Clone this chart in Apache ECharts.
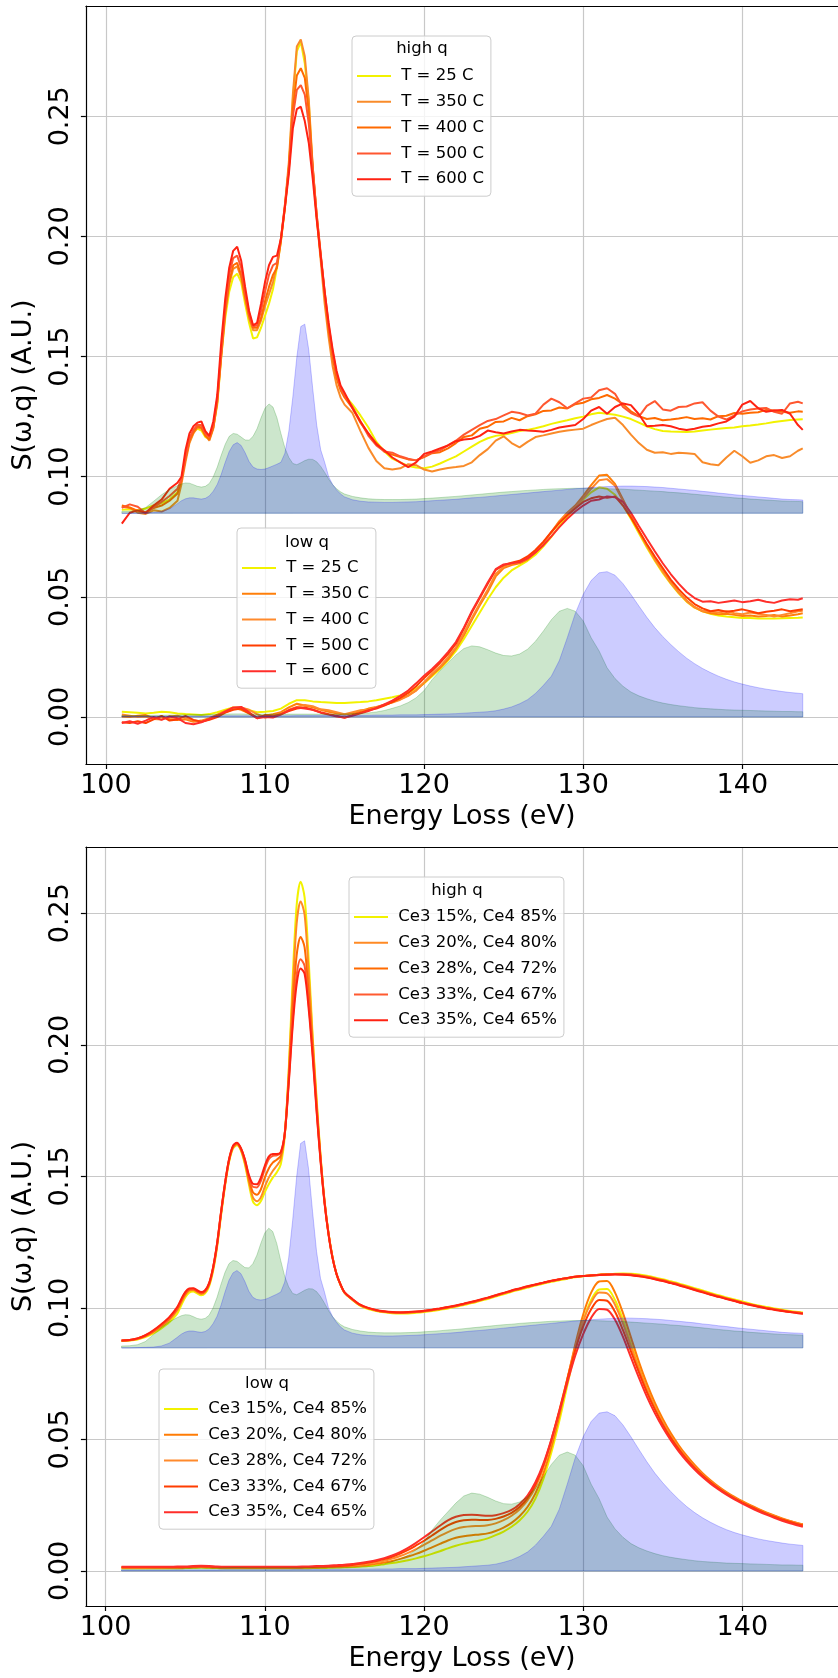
<!DOCTYPE html>
<html>
<head>
<meta charset="utf-8">
<script src="https://cdn.jsdelivr.net/npm/echarts@6/dist/echarts.min.js"></script>
<style>
html,body{margin:0;padding:0;background:#fff;}
#chart{width:838px;height:1678px;}
</style>
</head>
<body>
<div id="chart"></div>
<script>
// ---------------- DATA ----------------
// energy grids (eV)
const E_HQ = [101,101.5,102,102.5,103,103.5,104,
104.5,104.75,105,105.25,105.5,105.75,106,106.25,106.5,106.75,107,107.25,107.5,107.75,108,108.25,108.5,108.75,109,109.25,109.5,109.75,110,110.25,110.5,110.75,111,111.25,111.5,111.75,112,112.25,112.5,112.75,113,113.25,113.5,113.75,114,114.25,114.5,114.75,115,
115.5,116,116.5,117,117.5,118,118.5,119,119.5,120,120.5,121,121.5,122,122.5,123,123.5,124,124.5,125,125.5,126,126.5,127,127.5,128,128.5,129,129.5,130,130.5,131,131.5,132,132.5,133,133.5,134,134.5,135,135.5,136,136.5,137,137.5,138,138.5,139,139.5,140,140.5,141,141.5,142,142.5,143,143.5,143.8];
const E_LQ = [101,101.5,102,102.5,103,103.5,104,104.5,105,105.5,106,106.5,107,107.5,108,108.5,109,109.5,110,110.5,111,111.5,112,112.5,113,113.5,114,114.5,115,115.5,116,116.5,117,117.5,118,118.5,119,119.5,120,120.5,121,121.5,122,122.5,123,123.5,124,124.5,125,125.5,126,126.5,127,127.5,128,128.5,129,129.5,130,130.5,131,131.5,132,132.5,133,133.5,134,134.5,135,135.5,136,136.5,137,137.5,138,138.5,139,139.5,140,140.5,141,141.5,142,142.5,143,143.5,143.8];

// tick values
const X_TICKS = [100,110,120,130,140];
const Y_TICKS = [0,0.05,0.10,0.15,0.20,0.25];

// legend labels
const TEMP_LABELS = ['T = 25 C','T = 350 C','T = 400 C','T = 500 C','T = 600 C'];
const MIX_LABELS = ['Ce3 15%, Ce4 85%','Ce3 20%, Ce4 80%','Ce3 28%, Ce4 72%','Ce3 33%, Ce4 67%','Ce3 35%, Ce4 65%'];

// ---- top panel, high q (measured, by temperature) ----
const hqT25 = [.0862,.0865,.0860,.0868,.0880,.0890,.0905,
.0935,.0985,.1075,.1145,.1185,.1200,.1192,.1165,.1158,.1205,.1300,.1500,.1660,.1770,.1830,.1845,.1810,.1720,.1640,.1575,.1580,.1620,.1670,.1720,.1780,.1870,.1980,.2120,.2290,.2570,.2770,.2810,.2720,.2560,.2270,.2080,.1920,.1760,.1620,.1510,.1420,.1370,.1340,
.1300,.1255,.1205,.1145,.1105,.1075,.1060,.1045,.1038,.1035,.1042,.1055,.1070,.1085,.1105,.1125,.1145,.1160,.1170,.1175,.1182,.1190,.1195,.1202,.1210,.1220,.1228,.1235,.1243,.1250,.1260,.1266,.1262,.1258,.1250,.1240,.1225,.1210,.1198,.1190,.1188,.1187,.1186,.1188,.1192,.1196,.1200,.1203,.1205,.1210,.1213,.1217,.1222,.1228,.1232,.1236,.1238,.1239];
const hqT350 = [.0875,.0870,.0850,.0845,.0860,.0855,.0870,
.0900,.0970,.1060,.1140,.1180,.1205,.1200,.1175,.1150,.1200,.1310,.1500,.1680,.1800,.1865,.1875,.1830,.1740,.1660,.1610,.1610,.1650,.1710,.1760,.1810,.1880,.1990,.2130,.2310,.2590,.2790,.2820,.2750,.2570,.2290,.2080,.1900,.1720,.1580,.1460,.1380,.1330,.1300,
.1265,.1190,.1120,.1065,.1035,.1030,.1035,.1052,.1048,.1030,.1022,.1030,.1036,.1040,.1045,.1060,.1090,.1115,.1150,.1168,.1140,.1122,.1145,.1165,.1172,.1180,.1187,.1192,.1196,.1200,.1215,.1228,.1240,.1245,.1215,.1175,.1140,.1112,.1100,.1102,.1095,.1100,.1098,.1095,.1060,.1052,.1048,.1080,.1108,.1085,.1058,.1068,.1085,.1090,.1078,.1085,.1108,.1118];
const hqT400 = [.0880,.0872,.0858,.0852,.0870,.0880,.0900,
.0930,.0985,.1075,.1150,.1185,.1210,.1205,.1170,.1155,.1205,.1315,.1510,.1690,.1810,.1880,.1890,.1840,.1750,.1670,.1620,.1620,.1660,.1730,.1790,.1840,.1870,.1980,.2120,.2290,.2530,.2670,.2700,.2660,.2520,.2290,.2090,.1920,.1760,.1610,.1500,.1410,.1360,.1330,
.1285,.1225,.1178,.1140,.1105,.1092,.1082,.1072,.1068,.1082,.1098,.1102,.1118,.1140,.1165,.1172,.1200,.1208,.1228,.1230,.1245,.1235,.1252,.1260,.1274,.1276,.1288,.1284,.1302,.1308,.1322,.1328,.1340,.1325,.1302,.1272,.1252,.1240,.1244,.1235,.1238,.1242,.1248,.1240,.1243,.1238,.1252,.1254,.1265,.1262,.1266,.1268,.1278,.1276,.1270,.1266,.1272,.1270];
const hqT500 = [.0870,.0885,.0875,.0848,.0872,.0895,.0920,
.0950,.0990,.1080,.1160,.1195,.1215,.1215,.1180,.1165,.1215,.1325,.1520,.1710,.1840,.1910,.1920,.1870,.1770,.1680,.1625,.1630,.1690,.1770,.1840,.1880,.1890,.1990,.2130,.2280,.2500,.2610,.2630,.2590,.2470,.2280,.2090,.1930,.1770,.1630,.1520,.1430,.1370,.1340,
.1290,.1230,.1170,.1130,.1105,.1100,.1085,.1075,.1068,.1085,.1100,.1110,.1130,.1150,.1175,.1195,.1215,.1232,.1240,.1255,.1270,.1265,.1255,.1262,.1300,.1325,.1310,.1285,.1305,.1325,.1330,.1360,.1368,.1345,.1290,.1265,.1250,.1295,.1315,.1280,.1275,.1290,.1292,.1305,.1310,.1275,.1250,.1238,.1255,.1272,.1280,.1284,.1286,.1270,.1262,.1305,.1312,.1305];
const hqT600 = [.0805,.0850,.0860,.0850,.0880,.0905,.0950,
.0975,.1000,.1110,.1180,.1210,.1225,.1230,.1190,.1170,.1230,.1340,.1560,.1740,.1870,.1940,.1957,.1900,.1790,.1690,.1630,.1640,.1720,.1810,.1880,.1915,.1920,.1990,.2120,.2260,.2450,.2530,.2540,.2480,.2390,.2240,.2070,.1920,.1770,.1640,.1530,.1440,.1380,.1350,
.1285,.1230,.1180,.1135,.1110,.1080,.1060,.1040,.1060,.1095,.1105,.1118,.1130,.1148,.1155,.1158,.1170,.1192,.1185,.1180,.1188,.1195,.1192,.1190,.1187,.1195,.1205,.1210,.1215,.1240,.1275,.1290,.1262,.1290,.1305,.1298,.1260,.1210,.1212,.1215,.1210,.1200,.1194,.1200,.1208,.1212,.1222,.1230,.1250,.1300,.1315,.1285,.1270,.1276,.1278,.1262,.1215,.1195];

// ---- top panel, low q (measured, by temperature) ----
const lqT25 = [.0022,.0020,.0018,.0015,.0018,.0022,.0020,.0015,.0012,.0010,
.0008,.0012,.0020,.0030,.0040,.0038,.0028,.0020,.0022,.0025,
.0035,.0055,.0070,.0070,.0065,.0062,.0060,.0058,.0058,.0060,
.0062,.0065,.0070,.0076,.0082,.0090,.0102,.0118,.0140,.0170,
.0200,.0235,.0275,.0325,.0380,.0435,.0490,.0540,.0580,.0610,
.0630,.0650,.0675,.0710,.0750,.0795,.0835,.0870,.0905,.0935,
.0956,.0950,.0925,.0880,.0825,.0765,.0705,.0650,.0600,.0555,
.0515,.0480,.0455,.0440,.0430,.0422,.0418,.0415,.0412,.0412,
.0410,.0410,.0410,.0411,.0412,.0413,.0414];
const lqT350 = [.0002,.0000,.0005,.0008,-.0005,.0002,-.0008,-.0012,-.0010,-.0020,
-.0015,-.0005,.0010,.0025,.0038,.0030,.0015,-.0002,.0005,.0012,
.0020,.0040,.0055,.0048,.0040,.0030,.0022,.0015,.0010,.0015,
.0025,.0035,.0042,.0050,.0062,.0075,.0090,.0110,.0142,.0175,
.0205,.0240,.0285,.0340,.0405,.0465,.0520,.0585,.0620,.0632,
.0640,.0655,.0685,.0725,.0770,.0815,.0850,.0880,.0920,.0965,
.1005,.1008,.0970,.0905,.0840,.0775,.0715,.0660,.0610,.0560,
.0520,.0485,.0458,.0440,.0432,.0428,.0430,.0425,.0420,.0422,
.0418,.0420,.0425,.0418,.0422,.0428,.0432];
const lqT400 = [.0010,.0005,.0000,.0002,-.0008,-.0010,.0002,.0005,-.0005,-.0015,
-.0018,-.0010,.0005,.0020,.0032,.0040,.0030,.0012,-.0002,.0005,
.0015,.0030,.0042,.0050,.0045,.0032,.0028,.0020,.0012,.0020,
.0028,.0030,.0040,.0052,.0060,.0072,.0088,.0112,.0145,.0180,
.0210,.0248,.0290,.0350,.0412,.0472,.0530,.0595,.0625,.0638,
.0645,.0660,.0690,.0725,.0768,.0810,.0848,.0875,.0910,.0950,
.0985,.0990,.0962,.0900,.0835,.0772,.0712,.0655,.0605,.0558,
.0518,.0482,.0456,.0442,.0438,.0435,.0440,.0432,.0428,.0435,
.0430,.0425,.0418,.0425,.0432,.0440,.0442];
const lqT500 = [-.0022,-.0025,-.0018,-.0025,-.0010,.0005,-.0015,-.0010,.0005,-.0012,
-.0020,-.0012,.0000,.0018,.0030,.0035,.0015,-.0005,.0008,.0002,
.0012,.0025,.0035,.0040,.0030,.0020,.0012,.0005,-.0003,.0008,
.0018,.0028,.0035,.0048,.0062,.0080,.0100,.0128,.0162,.0192,
.0225,.0262,.0305,.0368,.0435,.0495,.0555,.0612,.0632,.0642,
.0650,.0668,.0695,.0730,.0770,.0808,.0840,.0868,.0895,.0910,
.0918,.0912,.0918,.0880,.0830,.0775,.0720,.0668,.0620,.0572,
.0532,.0498,.0470,.0452,.0440,.0445,.0438,.0442,.0448,.0440,
.0432,.0438,.0442,.0448,.0440,.0445,.0448];
const lqT600 = [-.0025,-.0018,-.0028,-.0015,.0000,-.0012,.0002,-.0005,-.0025,-.0030,
-.0022,-.0008,.0005,.0022,.0040,.0042,.0020,-.0005,.0000,-.0002,
.0010,.0028,.0040,.0035,.0030,.0018,.0010,.0002,-.0002,.0005,
.0015,.0025,.0038,.0052,.0068,.0088,.0110,.0140,.0172,.0200,
.0232,.0270,.0312,.0372,.0440,.0500,.0560,.0615,.0635,.0640,
.0645,.0660,.0685,.0715,.0752,.0790,.0825,.0855,.0880,.0900,
.0905,.0918,.0915,.0895,.0850,.0795,.0742,.0690,.0640,.0595,
.0555,.0520,.0495,.0480,.0482,.0475,.0480,.0485,.0478,.0482,
.0488,.0480,.0475,.0485,.0490,.0488,.0494];

// ---- bottom panel, high q (model, by Ce3/Ce4 mixture) ----
const hqCe15 = [.0874,.0876,.0880,.0889,.0903,.0922,.0945,
.0978,.1010,.1040,.1058,.1062,.1055,.1048,.1055,.1082,.1140,.1230,.1350,.1462,.1553,.1605,.1618,.1598,.1545,.1470,.1405,.1390,.1405,.1440,.1470,.1495,.1515,.1545,.1650,.1900,.2250,.2530,.2620,.2560,.2330,.2040,.1800,.1580,.1410,.1285,.1195,.1130,.1088,.1058,
.1030,.1008,.0996,.0988,.0983,.0980,.0979,.0979,.0981,.0984,.0988,.0993,.0998,.1004,.1011,.1018,.1026,.1034,.1043,.1052,.1061,.1069,.1077,.1085,.1092,.1099,.1105,.1111,.1116,.1120,.1123,.1126,.1128,.1130,.1131,.1130,.1127,.1122,.1116,.1109,.1101,.1093,.1084,.1075,.1066,.1057,.1048,.1040,.1032,.1024,.1016,.1009,.1003,.0998,.0993,.0988,.0984,.0982];
const hqCe20 = [.0875,.0877,.0882,.0892,.0908,.0929,.0954,
.0990,.1020,.1048,.1065,.1068,.1060,.1053,.1060,.1087,.1146,.1236,.1356,.1467,.1557,.1609,.1622,.1601,.1552,.1480,.1420,.1405,.1420,.1460,.1495,.1520,.1540,.1565,.1660,.1890,.2200,.2460,.2545,.2495,.2280,.2025,.1785,.1575,.1408,.1284,.1194,.1130,.1089,.1059,
.1032,.1010,.0998,.0990,.0985,.0982,.0981,.0982,.0984,.0987,.0991,.0996,.1001,.1007,.1014,.1021,.1029,.1037,.1046,.1055,.1064,.1072,.1080,.1088,.1095,.1102,.1108,.1113,.1118,.1121,.1124,.1126,.1128,.1129,.1129,.1127,.1123,.1118,.1112,.1105,.1097,.1089,.1080,.1071,.1062,.1053,.1044,.1036,.1028,.1020,.1013,.1006,.1000,.0995,.0990,.0985,.0982,.0980];
const hqCe28 = [.0875,.0877,.0883,.0894,.0911,.0933,.0959,
.0996,.1026,.1053,.1069,.1071,.1063,.1056,.1063,.1090,.1150,.1240,.1360,.1470,.1560,.1612,.1625,.1604,.1558,.1490,.1440,.1430,.1450,.1495,.1530,.1552,.1563,.1578,.1660,.1870,.2140,.2340,.2410,.2370,.2200,.1995,.1770,.1570,.1405,.1283,.1193,.1130,.1089,.1059,
.1032,.1010,.0998,.0990,.0985,.0982,.0981,.0982,.0984,.0987,.0991,.0996,.1001,.1007,.1014,.1021,.1029,.1037,.1046,.1055,.1064,.1072,.1080,.1088,.1095,.1102,.1108,.1113,.1118,.1121,.1124,.1126,.1128,.1129,.1129,.1127,.1123,.1118,.1112,.1105,.1097,.1089,.1080,.1071,.1062,.1053,.1044,.1036,.1028,.1020,.1013,.1006,.1000,.0995,.0990,.0985,.0982,.0980];
const hqCe33 = [.0876,.0878,.0884,.0895,.0913,.0936,.0962,
.1000,.1030,.1057,.1072,.1073,.1065,.1058,.1065,.1092,.1152,.1242,.1362,.1472,.1562,.1614,.1627,.1606,.1562,.1500,.1460,.1458,.1482,.1528,.1565,.1578,.1580,.1588,.1660,.1858,.2090,.2265,.2325,.2300,.2160,.1975,.1758,.1563,.1402,.1282,.1192,.1130,.1089,.1059,
.1033,.1011,.0999,.0991,.0986,.0983,.0982,.0983,.0985,.0988,.0992,.0997,.1002,.1008,.1015,.1022,.1030,.1038,.1047,.1056,.1065,.1073,.1081,.1088,.1095,.1102,.1108,.1113,.1118,.1121,.1123,.1125,.1127,.1128,.1127,.1125,.1121,.1116,.1110,.1103,.1095,.1087,.1078,.1069,.1060,.1051,.1043,.1035,.1027,.1019,.1012,.1005,.0999,.0994,.0989,.0984,.0981,.0979];
const hqCe35 = [.0876,.0878,.0884,.0896,.0915,.0938,.0965,
.1003,.1033,.1060,.1074,.1075,.1067,.1060,.1067,.1094,.1154,.1244,.1364,.1474,.1564,.1616,.1628,.1607,.1565,.1505,.1472,.1470,.1495,.1540,.1575,.1585,.1585,.1592,.1660,.1850,.2070,.2230,.2290,.2270,.2140,.1960,.1750,.1560,.1400,.1280,.1190,.1130,.1090,.1060,
.1034,.1012,.1000,.0992,.0987,.0984,.0983,.0984,.0986,.0989,.0993,.0998,.1003,.1009,.1016,.1023,.1031,.1039,.1048,.1057,.1066,.1074,.1082,.1089,.1096,.1103,.1109,.1114,.1118,.1121,.1123,.1125,.1126,.1127,.1126,.1124,.1120,.1115,.1109,.1102,.1094,.1086,.1077,.1068,.1059,.1050,.1042,.1034,.1026,.1018,.1011,.1004,.0998,.0993,.0988,.0984,.0980,.0978];

// ---- bottom panel, low q (model, by Ce3/Ce4 mixture) ----
const lqCe15 = [.0010,.0010,.0010,.0010,.0010,.0010,.0010,.0010,.0011,.0012,
.0013,.0012,.0011,.0010,.0010,.0010,.0010,.0010,.0010,.0010,
.0010,.0010,.0010,.0010,.0011,.0011,.0012,.0013,.0014,.0015,
.0017,.0019,.0022,.0026,.0030,.0035,.0041,.0048,.0056,.0065,
.0075,.0086,.0096,.0104,.0110,.0116,.0124,.0136,.0150,.0168,
.0192,.0225,.0275,.0350,.0450,.0570,.0705,.0838,.0950,.1030,
.1070,.1072,.1030,.0955,.0865,.0775,.0695,.0625,.0565,.0513,
.0468,.0430,.0396,.0366,.0340,.0317,.0297,.0279,.0263,.0248,
.0234,.0221,.0209,.0198,.0188,.0180,.0176];
const lqCe20 = [.0012,.0012,.0012,.0012,.0012,.0012,.0012,.0012,.0013,.0014,
.0015,.0014,.0013,.0012,.0012,.0012,.0012,.0012,.0012,.0012,
.0012,.0012,.0012,.0013,.0013,.0014,.0015,.0016,.0017,.0018,
.0020,.0023,.0027,.0032,.0038,.0046,.0055,.0065,.0077,.0090,
.0103,.0116,.0126,.0132,.0136,.0139,.0143,.0152,.0165,.0183,
.0208,.0243,.0295,.0370,.0470,.0590,.0725,.0860,.0975,.1058,
.1100,.1102,.1058,.0980,.0888,.0795,.0712,.0640,.0578,.0524,
.0478,.0438,.0403,.0372,.0345,.0321,.0300,.0282,.0265,.0250,
.0236,.0223,.0211,.0200,.0190,.0182,.0178];
const lqCe28 = [.0013,.0013,.0013,.0013,.0013,.0013,.0013,.0013,.0014,.0015,
.0016,.0015,.0014,.0013,.0013,.0013,.0013,.0013,.0013,.0013,
.0013,.0013,.0013,.0014,.0014,.0015,.0016,.0017,.0019,.0021,
.0024,.0028,.0033,.0039,.0047,.0057,.0069,.0083,.0099,.0116,
.0133,.0148,.0160,.0167,.0170,.0171,.0174,.0181,.0193,.0210,
.0234,.0268,.0318,.0392,.0490,.0605,.0730,.0850,.0950,.1020,
.1058,.1055,.1012,.0940,.0855,.0770,.0692,.0623,.0564,.0513,
.0469,.0430,.0396,.0366,.0340,.0317,.0296,.0278,.0262,.0247,
.0233,.0220,.0209,.0198,.0189,.0181,.0177];
const lqCe33 = [.0014,.0014,.0014,.0014,.0014,.0014,.0014,.0014,.0015,.0016,
.0017,.0016,.0015,.0014,.0014,.0014,.0014,.0014,.0014,.0014,
.0014,.0014,.0014,.0015,.0015,.0016,.0017,.0018,.0020,.0023,
.0027,.0032,.0038,.0045,.0054,.0066,.0080,.0097,.0115,.0135,
.0155,.0173,.0186,.0193,.0195,.0194,.0194,.0198,.0207,.0221,
.0243,.0277,.0328,.0402,.0498,.0610,.0728,.0840,.0930,.0995,
.1030,.1027,.0985,.0915,.0835,.0755,.0680,.0614,.0556,.0506,
.0463,.0425,.0392,.0363,.0337,.0314,.0294,.0276,.0260,.0245,
.0231,.0218,.0206,.0196,.0186,.0178,.0173];
const lqCe35 = [.0016,.0016,.0016,.0016,.0016,.0016,.0016,.0017,.0017,.0019,
.0020,.0019,.0017,.0016,.0016,.0016,.0016,.0016,.0016,.0016,
.0016,.0016,.0016,.0017,.0018,.0019,.0020,.0022,.0024,.0027,
.0030,.0035,.0041,.0049,.0059,.0072,.0088,.0107,.0128,.0150,
.0172,.0192,.0206,.0213,.0214,.0212,.0210,.0212,.0220,.0232,
.0254,.0287,.0337,.0408,.0500,.0605,.0715,.0818,.0900,.0962,
.0996,.0993,.0955,.0890,.0812,.0735,.0663,.0600,.0545,.0497,
.0455,.0418,.0386,.0357,.0332,.0310,.0290,.0272,.0256,.0241,
.0227,.0214,.0202,.0191,.0181,.0173,.0168];

// ---- reference spectra (shaded), high q on offset baseline, low q on zero ----
const HQ_REF_BASE = 0.0848;
const LQ_REF_BASE = 0;
const refHqGreen = [.0855,.0856,.0860,.0872,.0898,.0925,.0947,
.0963,.0970,.0974,.0973,.0967,.0960,.0957,.0960,.0972,.1000,.1040,.1090,.1135,.1168,.1180,.1177,.1165,.1153,.1152,.1168,.1200,.1245,.1285,.1303,.1290,.1245,.1180,.1120,.1080,.1055,.1050,.1058,.1067,.1073,.1072,.1062,.1043,.1018,.0990,.0967,.0950,.0937,.0928,
.0918,.0912,.0908,.0906,.0905,.0905,.0905,.0906,.0907,.0909,.0911,.0913,.0916,.0918,.0921,.0924,.0927,.0930,.0933,.0936,.0938,.0941,.0943,.0945,.0947,.0949,.0950,.0951,.0952,.0952,.0952,.0951,.0950,.0949,.0948,.0946,.0944,.0942,.0940,.0938,.0935,.0933,.0930,.0927,.0924,.0921,.0918,.0915,.0912,.0910,.0907,.0905,.0903,.0901,.0899,.0898,.0897,.0896];
const refHqBlue = [.0848,.0848,.0849,.0850,.0851,.0855,.0866,
.0888,.0900,.0908,.0912,.0912,.0909,.0907,.0910,.0920,.0940,.0968,.1010,.1060,.1105,.1133,.1142,.1130,.1100,.1063,.1040,.1032,.1030,.1032,.1038,.1045,.1052,.1060,.1098,.1190,.1333,.1498,.1625,.1635,.1528,.1366,.1215,.1112,.1060,.1000,.0968,.0945,.0928,.0916,
.0904,.0898,.0895,.0894,.0893,.0893,.0894,.0895,.0896,.0898,.0900,.0902,.0904,.0906,.0909,.0912,.0914,.0917,.0920,.0923,.0926,.0929,.0932,.0935,.0938,.0941,.0944,.0947,.0950,.0952,.0955,.0957,.0959,.0960,.0961,.0961,.0960,.0959,.0957,.0955,.0952,.0949,.0946,.0943,.0939,.0936,.0932,.0929,.0925,.0922,.0919,.0916,.0913,.0910,.0907,.0905,.0904,.0903];
const refLqGreen = [.0006,.0006,.0006,.0006,.0007,.0007,.0008,.0008,.0009,.0010,
.0010,.0010,.0011,.0012,.0013,.0013,.0012,.0012,.0012,.0012,
.0012,.0012,.0012,.0012,.0012,.0012,.0012,.0012,.0013,.0014,
.0015,.0017,.0021,.0027,.0036,.0046,.0060,.0080,.0110,.0155,
.0192,.0225,.0258,.0285,.0296,.0292,.0280,.0266,.0256,.0254,
.0262,.0282,.0315,.0358,.0405,.0440,.0452,.0440,.0400,.0330,
.0275,.0205,.0160,.0128,.0104,.0088,.0076,.0066,.0058,.0052,
.0047,.0043,.0039,.0036,.0034,.0032,.0030,.0029,.0028,.0027,
.0026,.0025,.0024,.0023,.0023,.0022,.0022];
const refLqBlue = [.0003,.0003,.0003,.0003,.0003,.0003,.0003,.0004,.0004,.0004,
.0004,.0004,.0004,.0005,.0005,.0005,.0005,.0005,.0005,.0005,
.0005,.0005,.0006,.0006,.0006,.0006,.0006,.0007,.0007,.0007,
.0007,.0007,.0008,.0008,.0008,.0009,.0009,.0009,.0010,.0011,
.0012,.0013,.0014,.0016,.0018,.0020,.0022,.0026,.0033,.0042,
.0055,.0072,.0098,.0132,.0170,.0235,.0330,.0430,.0510,.0568,
.0600,.0605,.0590,.0555,.0510,.0462,.0415,.0372,.0335,.0302,
.0272,.0245,.0222,.0202,.0185,.0170,.0157,.0146,.0137,.0129,
.0122,.0116,.0111,.0106,.0102,.0099,.0097];

// ---------------- STYLE ----------------
const FONT = 'DejaVu Sans';
const TOP_HQ_COLORS = ['#f2f200','#f98b2a','#ff6a00','#ff5730','#ff2212'];
const TOP_LQ_COLORS = ['#f2f200','#ff7f0a','#ff8a2c','#ff3d00','#ff2e2a'];
const BOT_HQ_COLORS = ['#f2f200','#ff8a24','#ff6a00','#ff5a30','#ff2212'];
const BOT_LQ_COLORS = ['#f2f200','#ff7c05','#ff8a2c','#ff3d00','#ff2e2a'];

// ---------------- BUILD ----------------
const chart = echarts.init(document.getElementById('chart'), null, {renderer:'canvas'});

function lineSeries(key, xs, ys, color, g, smooth){
  return {
    type:'line', name:key, xAxisIndex:g, yAxisIndex:g,
    data: xs.map((x,i)=>[x, ys[i]]),
    showSymbol:false, symbol:'none', smooth: smooth,
    lineStyle:{color:color, width:2}, itemStyle:{color:color},
    emphasis:{disabled:true}, animation:false, z:2
  };
}
function fillSeries(xs, ys, base, rgb, g){
  return {
    type:'custom', xAxisIndex:g, yAxisIndex:g, silent:true, animation:false, z:3,
    data:[[xs[0], base]],
    renderItem:function(params, api){
      const pts = xs.map((x,i)=>api.coord([x, ys[i]]));
      pts.push(api.coord([xs[xs.length-1], base]));
      pts.push(api.coord([xs[0], base]));
      return {type:'polygon', shape:{points:pts},
        style:{fill:'rgba('+rgb+',0.2)', stroke:'rgba('+rgb+',0.22)', lineWidth:1}};
    }
  };
}

const series = [];
const legendNames = {th:[], tl:[], bh:[], bl:[]};
const topHQ = [hqT25,hqT350,hqT400,hqT500,hqT600];
const topLQ = [lqT25,lqT350,lqT400,lqT500,lqT600];
const botHQ = [hqCe15,hqCe20,hqCe28,hqCe33,hqCe35];
const botLQ = [lqCe15,lqCe20,lqCe28,lqCe33,lqCe35];
for(let i=0;i<5;i++){
  const k1='th|'+TEMP_LABELS[i], k2='tl|'+TEMP_LABELS[i];
  series.push(lineSeries(k1, E_HQ, topHQ[i], TOP_HQ_COLORS[i], 0, false));
  series.push(lineSeries(k2, E_LQ, topLQ[i], TOP_LQ_COLORS[i], 0, false));
  legendNames.th.push(k1); legendNames.tl.push(k2);
  const k3='bh|'+MIX_LABELS[i], k4='bl|'+MIX_LABELS[i];
  series.push(lineSeries(k3, E_HQ, botHQ[i], BOT_HQ_COLORS[i], 1, 0.3));
  series.push(lineSeries(k4, E_LQ, botLQ[i], BOT_LQ_COLORS[i], 1, 0.3));
  legendNames.bh.push(k3); legendNames.bl.push(k4);
}
for(const g of [0,1]){
  series.push(fillSeries(E_HQ, refHqGreen, HQ_REF_BASE, '0,128,0', g));
  series.push(fillSeries(E_HQ, refHqBlue, HQ_REF_BASE, '0,0,255', g));
  series.push(fillSeries(E_LQ, refLqGreen, LQ_REF_BASE, '0,128,0', g));
  series.push(fillSeries(E_LQ, refLqBlue, LQ_REF_BASE, '0,0,255', g));
}

const grids = [
  {left:84, top:6, width:763, height:758},
  {left:82, top:847, width:763, height:759}
];
const xr = [[98.742, 98.742+763/16.14],[98.762, 98.762+763/16.15]];
const yr = [[-0.01956, 0.2959],[-0.01331, 0.27517]];

function xAxisBottom(g){
  return {
    type:'value', gridIndex:g, position:'bottom', min:xr[g][0], max:xr[g][1],
    minInterval:10, maxInterval:10,
    name:'Energy Loss (eV)', nameLocation:'middle', nameGap:37,
    nameTextStyle:{fontFamily:FONT, fontSize:27, color:'#000', lineHeight:32},
    axisLine:{show:true, onZero:false, lineStyle:{color:'#000', width:1.2}},
    axisTick:{show:true, length:5, lineStyle:{color:'#000', width:1.2}},
    axisLabel:{show:true, margin:8, fontFamily:FONT, fontSize:27, lineHeight:27, color:'#000',
      showMinLabel:false, showMaxLabel:false,
      formatter:v=> X_TICKS.includes(Math.round(v)) && Math.abs(v-Math.round(v))<1e-6 ? String(Math.round(v)) : ''},
    splitLine:{show:true, showMinLine:false, showMaxLine:false, lineStyle:{color:'#c8c8c8', width:1.2}}
  };
}
function xAxisTop(g){
  return {
    type:'value', gridIndex:g, position:'top', min:xr[g][0], max:xr[g][1],
    axisLine:{show:true, onZero:false, lineStyle:{color:'#000', width:1.2}},
    axisTick:{show:false}, axisLabel:{show:false}, splitLine:{show:false}
  };
}
function yAxis(g){
  return {
    type:'value', gridIndex:g, min:yr[g][0], max:yr[g][1],
    minInterval:0.05, maxInterval:0.05,
    name:'S(\u03c9,q) (A.U.)', nameLocation:'middle', nameGap:44, nameRotate:90,
    nameTextStyle:{fontFamily:FONT, fontSize:27, color:'#000', lineHeight:32},
    axisLine:{show:true, onZero:false, lineStyle:{color:'#000', width:1.2}},
    axisTick:{show:true, length:5, lineStyle:{color:'#000', width:1.2}},
    axisLabel:{show:true, rotate:90, margin:11, fontFamily:FONT, fontSize:27, lineHeight:27, color:'#000',
      showMinLabel:false, showMaxLabel:false,
      formatter:v=> Y_TICKS.some(t=>Math.abs(t-v)<1e-9) ? v.toFixed(2) : ''},
    splitLine:{show:true, showMinLine:false, showMaxLine:false, lineStyle:{color:'#c8c8c8', width:1.2}}
  };
}

function legend(names, left, top){
  return {
    show:true, orient:'vertical', left:left, top:top,
    padding:[30,7,7,5], itemGap:5.8, itemWidth:34, itemHeight:2, icon:'rect',
    backgroundColor:'rgba(255,255,255,0.8)', borderColor:'#cccccc', borderWidth:1, borderRadius:4,
    textStyle:{fontFamily:FONT, fontSize:16.5, color:'#000', lineHeight:20},
    formatter:n=>' '+n.split('|')[1],
    selectedMode:false, data:names, z:10
  };
}
function legendTitle(text, x, y){
  return {type:'text', x:x, y:y, z:100, silent:true,
    style:{text:text, font:'16.5px "DejaVu Sans"', fill:'#000', align:'center', verticalAlign:'middle'}};
}

const option = {
  backgroundColor:'#fff',
  animation:false,
  textStyle:{fontFamily:FONT},
  grid:grids,
  xAxis:[xAxisBottom(0), xAxisBottom(1), xAxisTop(0), xAxisTop(1)],
  yAxis:[yAxis(0), yAxis(1)],
  legend:[
    legend(legendNames.th, 352, 36),
    legend(legendNames.tl, 237, 528),
    legend(legendNames.bh, 349, 877),
    legend(legendNames.bl, 159, 1369)
  ],
  graphic:[
    legendTitle('high q', 422, 49),
    legendTitle('low q', 307, 543),
    legendTitle('high q', 457, 891),
    legendTitle('low q', 267, 1384)
  ],
  series:series
};
chart.setOption(option);
</script>
</body>
</html>
